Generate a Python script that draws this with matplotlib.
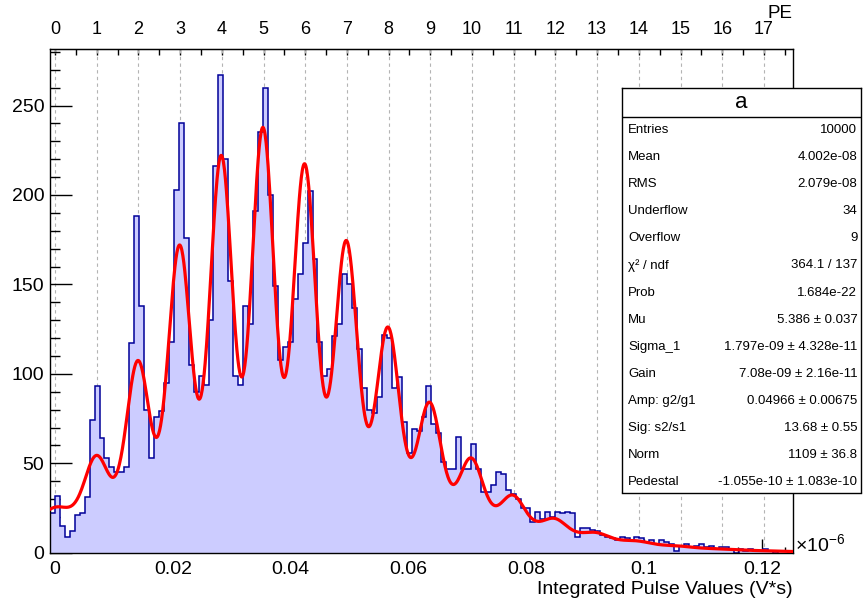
import math
import numpy as np
import matplotlib.pyplot as plt
from matplotlib.ticker import MultipleLocator
from matplotlib.lines import Line2D

plt.rcParams['font.family'] = ['Liberation Sans', 'DejaVu Sans']
plt.rcParams['mathtext.fontset'] = 'custom'
plt.rcParams['mathtext.rm'] = 'Liberation Sans'

# histogram "a": 150 bins, x in units of 1e-6 V*s
x_lo, x_hi = -0.00085, 0.1253
counts = [22, 32, 15, 9, 12, 21, 22, 31, 74, 93,
          64, 53, 48, 45, 45, 48, 117, 188, 138, 80,
          53, 76, 79, 95, 118, 203, 240, 176, 105, 90,
          99, 94, 130, 216, 267, 220, 152, 99, 94, 138,
          128, 191, 235, 260, 200, 149, 108, 115, 118, 142,
          156, 173, 202, 164, 118, 99, 103, 121, 128, 156,
          150, 137, 114, 92, 80, 78, 87, 122, 120, 92,
          98, 73, 56, 69, 68, 76, 93, 72, 67, 51,
          47, 47, 65, 47, 47, 61, 47, 34, 34, 38,
          45, 44, 35, 33, 30, 25, 25, 17, 23, 19,
          23, 20, 23, 22, 23, 22, 9, 14, 14, 13,
          12, 10, 9, 8, 7, 9, 8, 7, 9, 8,
          6, 7, 5, 7, 6, 5, 1, 4, 5, 3,
          4, 5, 3, 4, 2, 3, 3, 2, 0, 2,
          1, 2, 1, 1, 2, 1, 0, 1, 1, 0]

# fit result printed in the stats box (x in 1e-6 V*s)
mu = 5.386
sigma_1 = 1.797e-3
gain = 7.08e-3
amp_ratio = 0.04966
sig_ratio = 13.68
norm = 1109
pedestal = -1.055e-4

pe_ticks = list(range(0, 18))

stat_names = ['Entries', 'Mean', 'RMS', 'Underflow', 'Overflow',
              '\u03c7\u00b2 / ndf', 'Prob', 'Mu', 'Sigma_1', 'Gain',
              'Amp: g2/g1', 'Sig: s2/s1', 'Norm', 'Pedestal']
stat_values = ['10000', '4.002e-08', '2.079e-08', '34', '9',
               '364.1 / 137', '1.684e-22', '5.386 \u00b1 0.037',
               '1.797e-09 \u00b1 4.328e-11', '7.08e-09 \u00b1 2.16e-11',
               '0.04966 \u00b1 0.00675', '13.68 \u00b1 0.55',
               '1109 \u00b1 36.8', '-1.055e-10 \u00b1 1.083e-10']


def fit_func(x):
    tot = np.zeros_like(x)
    for n in range(30):
        p = math.exp(-mu) * mu ** n / math.factorial(n)
        d = x - pedestal - n * gain
        tot += p * (np.exp(-0.5 * (d / sigma_1) ** 2)
                    + amp_ratio * np.exp(-0.5 * (d / (sig_ratio * sigma_1)) ** 2))
    return norm * tot


W, H = 863, 604
fig = plt.figure(figsize=(W / 100, H / 100), dpi=100, facecolor='white')
ax = fig.add_axes([50 / W, 1 - 552.8 / H, 743 / W, 503.3 / H])
ax.set_axisbelow(True)

edges = np.linspace(x_lo, x_hi, len(counts) + 1)
ax.stairs(counts, edges, fill=True, color='#ccccff', zorder=1)
ax.stairs(counts, edges, color='#000099', linewidth=1.1, zorder=2,
          baseline=0)

# dashed PE grid
for n in pe_ticks:
    ax.axvline(n * gain, color='#b4b4b4', linestyle=(0, (3, 3)),
               linewidth=0.8, zorder=0.5)

xf = np.linspace(x_lo, x_hi, 1500)
ax.plot(xf, fit_func(xf), color='red', linewidth=2.3, zorder=3)

ax.set_xlim(x_lo, x_hi)
ax.set_ylim(0, 281.3)

ax.xaxis.set_major_locator(MultipleLocator(0.02))
ax.xaxis.set_minor_locator(MultipleLocator(0.004))
ax.yaxis.set_major_locator(MultipleLocator(50))
ax.yaxis.set_minor_locator(MultipleLocator(10))
ax.set_xticks([0, 0.02, 0.04, 0.06, 0.08, 0.1, 0.12])
ax.set_xticklabels(['0', '0.02', '0.04', '0.06', '0.08', '0.1', '0.12'])
ax.tick_params(axis='both', which='both', direction='in', top=False, right=False)
ax.tick_params(axis='x', which='major', length=10, width=1, pad=6, labelsize=14)
ax.tick_params(axis='x', which='minor', length=4, width=1)
ax.tick_params(axis='y', which='major', length=16, width=1, pad=4, labelsize=14)
ax.tick_params(axis='y', which='minor', length=7.5, width=1)
for s in ax.spines.values():
    s.set_linewidth(1)

top = ax.secondary_xaxis('top', functions=(lambda v: v / gain, lambda p: p * gain))
top.set_xticks(pe_ticks)
top.xaxis.set_minor_locator(MultipleLocator(0.5))
top.tick_params(axis='x', which='both', direction='in', length=4.5, width=1,
                pad=8, labelsize=13)

fig.text(792 / W, 1 - 14 / H, 'PE', ha='right', va='center', fontsize=13.5)
fig.text(792.7 / W, 1 - 589 / H, 'Integrated Pulse Values (V*s)',
         ha='right', va='center', fontsize=14)
fig.text(795 / W, 1 - 545 / H, r'$\times10^{-6}$', ha='left', va='center',
         fontsize=14)

# stats box
bl, br, bt, bb = 622, 861, 88.3, 492.5
box = fig.add_axes([bl / W, 1 - bb / H, (br - bl) / W, (bb - bt) / H])
box.set_xlim(bl, br)
box.set_ylim(bb, bt)
box.set_xticks([])
box.set_yticks([])
box.set_facecolor('white')
for s in box.spines.values():
    s.set_linewidth(1)
box.add_line(Line2D([bl, br], [116.7, 116.7], color='black', linewidth=1))
box.text((bl + br) / 2, 102.5, 'a', ha='center', va='center', fontsize=16)
for i, (nm, val) in enumerate(zip(stat_names, stat_values)):
    yy = 130 + i * 27.1
    box.text(628.3, yy, nm, ha='left', va='center', fontsize=9.5)
    box.text(857.3, yy, val, ha='right', va='center', fontsize=9.5)

fig.savefig('out.png', dpi=100)
